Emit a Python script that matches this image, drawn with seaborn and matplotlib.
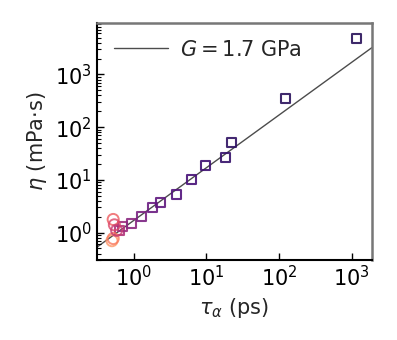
import numpy as np
import pandas as pd
import matplotlib
matplotlib.use("Agg")
import matplotlib.pyplot as plt
import seaborn as sns

# tau_alpha (ps) and viscosity eta (mPa s)
sq_tau = [1150, 123, 22, 18, 9.7, 6.3, 3.9, 2.3, 1.8, 1.27, 0.93, 0.70, 0.63]
sq_eta = [4800, 350, 50, 26, 19, 10, 5.3, 3.7, 3.0, 2.0, 1.5, 1.3, 1.07]
ci_tau = [0.52, 0.54, 0.58, 0.52, 0.50]
ci_eta = [1.77, 1.4, 1.1, 0.77, 0.70]

G_gpa = 1.7  # eta = G * tau  ->  mPa s = 1.7 * ps
xlim = (0.31, 1900)
ylim = (0.30, 9400)

sns.set_theme(style="ticks")
plt.rcParams["font.family"] = ["DejaVu Sans"]
plt.rcParams["mathtext.fontset"] = "dejavusans"

fig = plt.figure(figsize=(3.97, 3.40), dpi=100)
ax = fig.add_axes([0.244, 0.235, 0.693, 0.697])

df = pd.concat([
    pd.DataFrame({"tau": sq_tau, "eta": sq_eta, "kind": "s"}),
    pd.DataFrame({"tau": ci_tau, "eta": ci_eta, "kind": "o"}),
], ignore_index=True)
# colour by order along tau (hot = short tau, orange; cold = long tau, indigo)
df = df.sort_values(["tau", "eta"]).reset_index(drop=True)
n = len(df)
cmap = plt.get_cmap("magma")
df["c"] = [cmap(0.16 + 0.62 * (1 - i / (n - 1)) ** 1.8) for i in range(n)]

tline = np.logspace(np.log10(xlim[0]), np.log10(xlim[1]), 50)
sns.lineplot(x=tline, y=G_gpa * tline, color="black", lw=1.0, alpha=0.7,
             ax=ax, label=r"$G = 1.7$ GPa")

sq = df[df["kind"] == "s"]
ci = df[df["kind"] == "o"]
ax.scatter(sq["tau"], sq["eta"], marker="s", s=42, facecolors="none",
           edgecolors=list(sq["c"]), linewidths=1.5, alpha=0.9, zorder=3)
ax.scatter(ci["tau"], ci["eta"], marker="o", s=64, facecolors="none",
           edgecolors=list(ci["c"]), linewidths=1.4, alpha=0.8, zorder=3)

ax.set_xscale("log")
ax.set_yscale("log")
ax.set_xlim(*xlim)
ax.set_ylim(*ylim)
ax.set_xticks([1, 10, 100, 1000])
ax.set_yticks([1, 10, 100, 1000])
ax.xaxis.set_minor_locator(matplotlib.ticker.NullLocator())
ax.tick_params(which="both", direction="in", labelsize=15, colors="black")
ax.tick_params(which="major", length=5, width=1)
ax.tick_params(which="minor", length=3, width=0.8)
ax.set_xlabel(r"$\tau_\alpha$ (ps)", fontsize=15)
ax.set_ylabel(r"$\eta$ (mPa$\cdot$s)", fontsize=15)

for s in ["left", "bottom"]:
    ax.spines[s].set_color("black")
    ax.spines[s].set_linewidth(1.5)
for s in ["top", "right"]:
    ax.spines[s].set_color("#777777")
    ax.spines[s].set_linewidth(1.8)

ax.legend(loc="upper left", frameon=False, fontsize=15, handlelength=2.6,
          handletextpad=0.6, borderaxespad=0.4)

fig.savefig("out.png", dpi=100)
